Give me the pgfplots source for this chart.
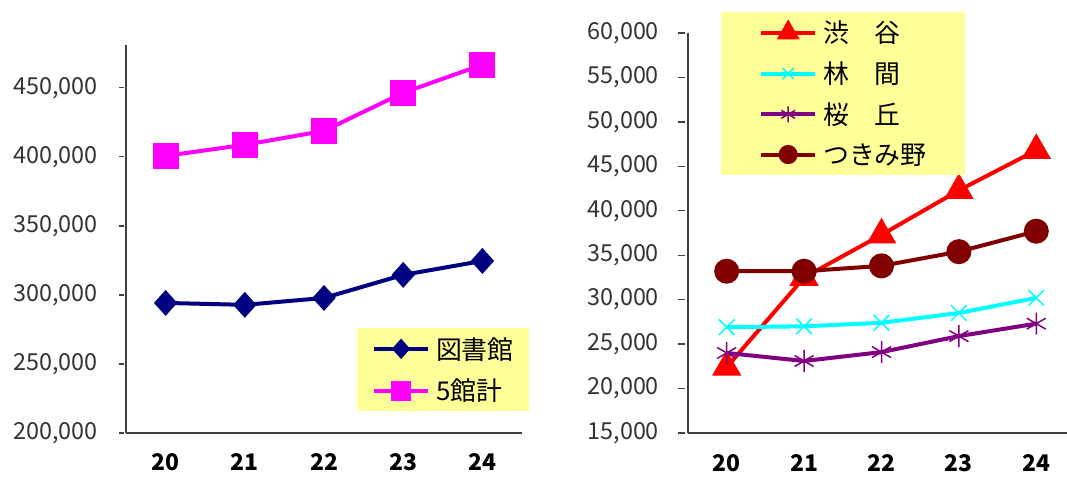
\documentclass[border=0pt]{standalone}
\usepackage{fontspec}
\setmainfont{Noto Sans CJK JP}
\usepackage{pgfplots}
\pgfplotsset{compat=1.18}

\definecolor{legbg}{HTML}{FFFF99}
\definecolor{navy}{HTML}{000080}
\definecolor{magenta2}{HTML}{FF00FF}
\definecolor{cyan2}{HTML}{00FFFF}
\definecolor{purple2}{HTML}{800080}
\definecolor{maroon}{HTML}{800000}

\pgfplotsset{
  panel/.style={
    scale only axis,
    axis x line=bottom, axis y line=left,
    axis line style={black!75, line width=1.3bp, -},
    xmin=0,
    xtick={0.5,1.5,2.5,3.5,4.5},
    xticklabels={20,21,22,23,24},
    xtick style={draw=none},
    minor xtick={1,2,3,4,5},
    minor tick length=9bp,
    minor tick style={black!75, line width=1.3bp},
    major tick length=7bp,
    ytick style={black!75, line width=1.3bp, xshift=-7bp},
    scaled y ticks=false,
    yticklabel style={font=\fontsize{23.5}{25}\selectfont, color=black!80, xshift=-22bp,
      /pgf/number format/.cd, fixed, precision=0, 1000 sep={,}, assume math mode=true},
    xticklabel style={font=\fontsize{23}{25}\selectfont\bfseries, yshift=-15bp},
    legend cell align=left,
    legend image code/.code={\draw[mark repeat=2,mark phase=2,##1,every mark/.append style={scale=0.72}] plot coordinates {(0bp,0bp) (27bp,0bp) (54bp,0bp)};},
    legend style={fill=legbg, draw=none, font=\fontsize{26}{28}\selectfont,
      inner ysep=9bp, row sep=17.5bp,
      nodes={inner sep=0pt},
      /tikz/every odd column/.append style={column sep=6bp}},
  },
  ser/.style={line width=4bp},
}

\begin{document}
\begin{tikzpicture}[x=1bp,y=1bp]
\useasboundingbox (0,0) rectangle (1067,477);

% left panel: 図書館 and 5館計
\begin{axis}[panel,
  at={(126bp,44bp)}, anchor=south west,
  width=396bp, height=388bp,
  xmax=5,
  ymin=200000, ymax=481000,
  ytick={200000,250000,300000,350000,400000,450000},
  major tick length=5bp,
  ytick style={xshift=2bp},
  legend style={at={(0.583,0.2706)}, anchor=north west, inner xsep=15bp, row sep=18.5bp},
]
\addplot[ser, navy, mark=diamond*, mark size=10bp, mark options={xscale=1.2}] coordinates {
  (0.5,294200) (1.5,292800) (2.5,297800) (3.5,314500) (4.5,324600)};
\addplot[ser, magenta2, mark=square*, mark size=11bp] coordinates {
  (0.5,400700) (1.5,408700) (2.5,418800) (3.5,446400) (4.5,466700)};
\legend{図書館, 5館計}
\end{axis}

% right panel: branch libraries
\begin{axis}[panel,
  at={(688bp,44bp)}, anchor=south west,
  width=379bp, height=400bp,
  xmax=4.897,
  ymin=15000, ymax=60000,
  ytick={15000,20000,...,60000},
  legend style={at={(0.087,1.0525)}, anchor=north west, inner xsep=38bp},
]
\addplot[ser, red, mark=triangle*, mark size=13bp] coordinates {
  (0.5,22400) (1.5,32500) (2.5,37300) (3.5,42300) (4.5,46800)};
\addplot[ser, cyan2, mark=x, mark size=11bp, mark options={line width=1.5bp}] coordinates {
  (0.5,26900) (1.5,27000) (2.5,27400) (3.5,28500) (4.5,30200)};
\addplot[ser, purple2, mark=asterisk, mark size=11bp, mark options={line width=1.5bp}] coordinates {
  (0.5,24000) (1.5,23100) (2.5,24100) (3.5,25900) (4.5,27300)};
\addplot[ser, maroon, mark=*, mark size=10.5bp] coordinates {
  (0.5,33200) (1.5,33200) (2.5,33800) (3.5,35400) (4.5,37700)};
\legend{渋　谷, 林　間, 桜　丘, つきみ野}
\end{axis}
\end{tikzpicture}
\end{document}
